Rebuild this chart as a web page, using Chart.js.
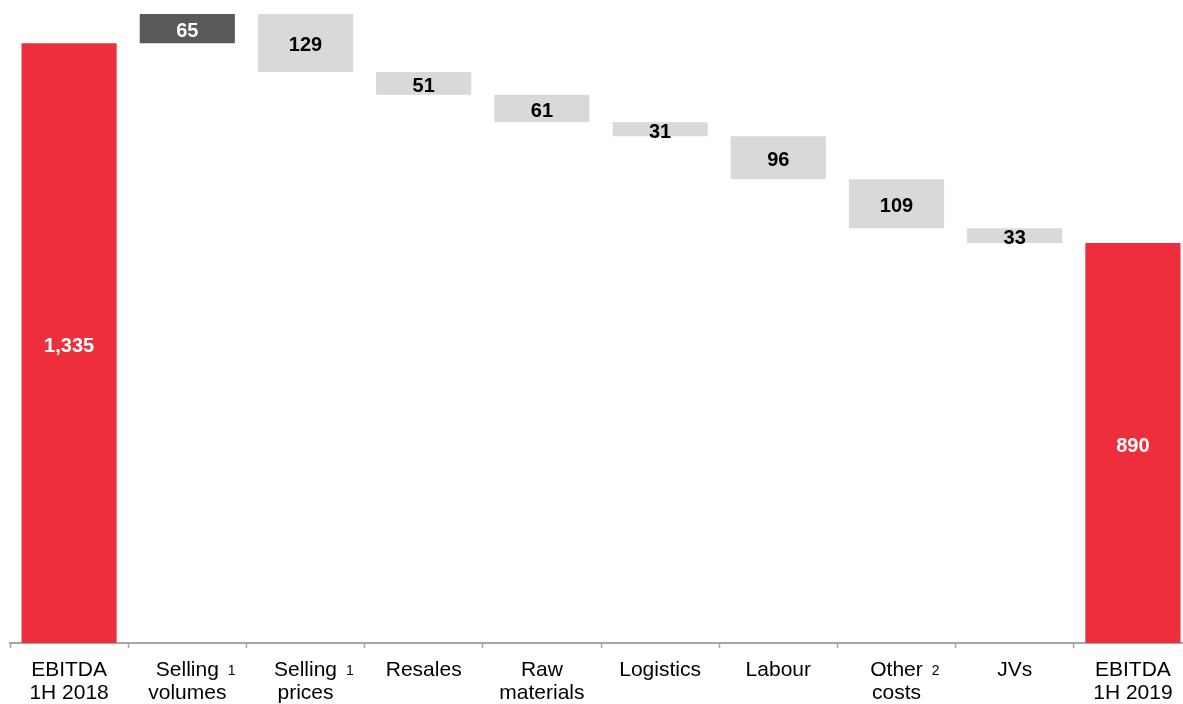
<!DOCTYPE html>
<html>
<head>
<meta charset="utf-8">
<script src="https://cdn.jsdelivr.net/npm/chart.js@4"></script>
<style>
    html, body { margin: 0; padding: 0; background: #fff; overflow: hidden; }
    #box { width: 1192px; height: 704px; position: relative; }
</style>
</head>
<body>
<div id="box"><canvas id="graficoEbitda"></canvas></div>
<script>
// dados do gráfico (bridge do EBITDA 1H 2018 -> 1H 2019)
const categorias = [
    ['EBITDA', '1H 2018'], ['Selling', 'volumes'], ['Selling', 'prices'], ['Resales'],
    ['Raw', 'materials'], ['Logistics'], ['Labour'], ['Other', 'costs'], ['JVs'], ['EBITDA', '1H 2019']
];
const notas = ['', '1', '1', '', '', '', '', '2', '', ''];
const ebitdaInicial = 1335;
const variacoes = [65, -129, -51, -61, -31, -96, -109, -33];
const ebitdaFinal = 890;

const corTotal = '#EE2E3C';
const corSobe = '#595959';
const corDesce = '#D9D9D9';
const fonte = '"Liberation Sans", Arial, sans-serif';

// constrói as barras flutuantes [base, topo]
const barras = [[0, ebitdaInicial]];
const valores = [ebitdaInicial];
const cores = [corTotal];
let acumulado = ebitdaInicial;
variacoes.forEach(v => {
    barras.push([acumulado, acumulado + v]);
    valores.push(Math.abs(v));
    cores.push(v >= 0 ? corSobe : corDesce);
    acumulado += v;
});
barras.push([0, ebitdaFinal]);
valores.push(ebitdaFinal);
cores.push(corTotal);

// escreve os valores no meio de cada barra
const rotulosValores = {
    id: 'rotulosValores',
    afterDatasetsDraw(chart) {
        const ctx = chart.ctx;
        const meta = chart.getDatasetMeta(0);
        ctx.save();
        ctx.font = 'bold 20px ' + fonte;
        ctx.textAlign = 'center';
        ctx.textBaseline = 'middle';
        meta.data.forEach((bar, i) => {
            ctx.fillStyle = cores[i] === corDesce ? '#000' : '#fff';
            const y = (bar.y + bar.base) / 2 + 3;
            ctx.fillText(valores[i].toLocaleString('en-US'), bar.x, y);
        });
        ctx.restore();
    }
};

// números das notas (1, 2) ao lado das categorias
const notasRodape = {
    id: 'notasRodape',
    afterDraw(chart) {
        const ctx = chart.ctx;
        const xs = chart.scales.x;
        ctx.save();
        notas.forEach((n, i) => {
            if (!n) return;
            ctx.font = '21px ' + fonte;
            const w = ctx.measureText(categorias[i][0]).width;
            const x = xs.getPixelForValue(i) + w / 2 + 9;
            ctx.font = '14px ' + fonte;
            ctx.fillStyle = '#000';
            ctx.textAlign = 'left';
            ctx.textBaseline = 'middle';
            ctx.fillText(n, x, xs.top + 28);
        });
        ctx.restore();
    }
};

new Chart(document.getElementById('graficoEbitda').getContext('2d'), {
    type: 'bar',
    data: {
        labels: categorias,
        datasets: [{
            data: barras,
            backgroundColor: cores,
            borderWidth: 0,
            barPercentage: 0.805,
            categoryPercentage: 1
        }]
    },
    options: {
        responsive: true,
        maintainAspectRatio: false,
        animation: false,
        layout: { padding: { left: 10, right: 0, top: 0, bottom: 0 } },
        plugins: {
            legend: { display: false },
            tooltip: { enabled: false }
        },
        scales: {
            y: {
                display: false,
                min: 0,
                max: 1431
            },
            x: {
                afterFit(scale) { scale.height = 61; },
                grid: {
                    display: true,
                    offset: true,
                    drawOnChartArea: false,
                    drawTicks: true,
                    tickLength: 5,
                    tickWidth: 1.5,
                    tickColor: '#A6A6A6'
                },
                border: { display: true, color: '#A6A6A6', width: 2 },
                ticks: {
                    color: '#000',
                    padding: 11,
                    maxRotation: 0,
                    autoSkip: false,
                    font: { family: fonte, size: 21, lineHeight: 1.1 }
                }
            }
        }
    },
    plugins: [rotulosValores, notasRodape]
});
</script>
</body>
</html>
